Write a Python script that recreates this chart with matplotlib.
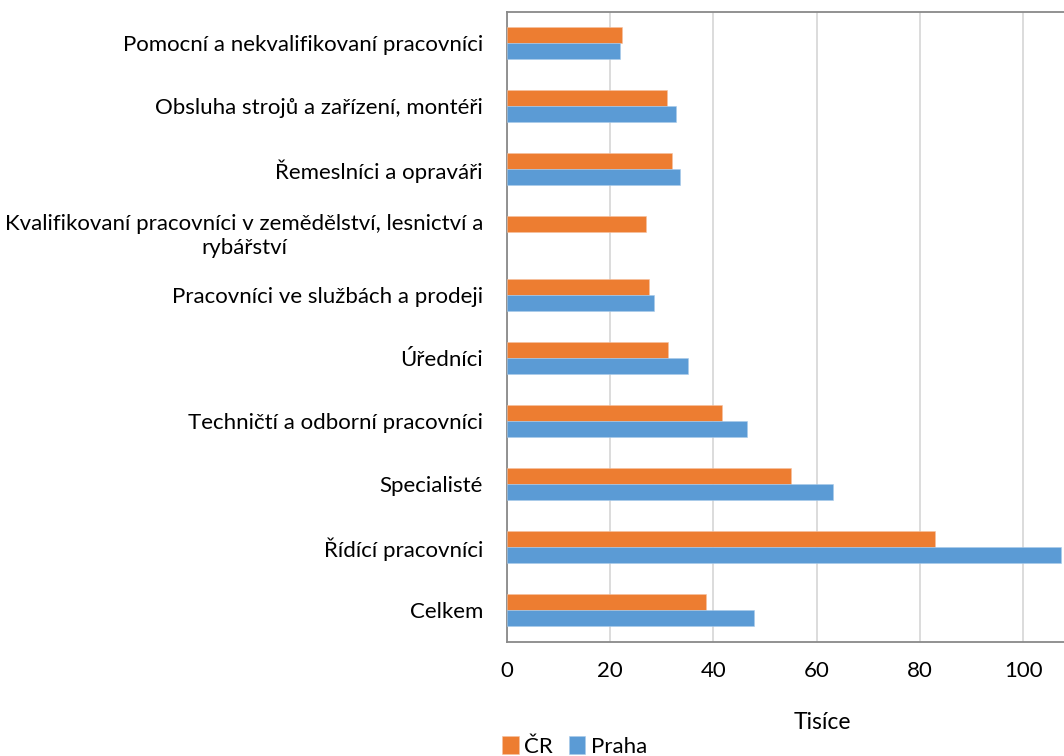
"""Average wages by occupation group, ČR vs Praha (horizontal bars)."""
import numpy as np
import matplotlib
matplotlib.use("Agg")
import matplotlib.pyplot as plt

# ---- data (bottom -> top) --------------------------------------------------
categories = [
    "Celkem",
    "Řídící pracovníci",
    "Specialisté",
    "Techničtí a odborní pracovníci",
    "Úředníci",
    "Pracovníci ve službách a prodeji",
    "Kvalifikovaní pracovníci v zemědělství, lesnictví a\nrybářství",
    "Řemeslníci a opraváři",
    "Obsluha strojů a zařízení, montéři",
    "Pomocní a nekvalifikovaní pracovníci",
]
cr_values = [38.5, 82.9, 55.1, 41.6, 31.2, 27.5, 27.0, 32.1, 31.0, 22.4]
praha_values = [47.9, 107.4, 63.2, 46.6, 35.1, 28.5, np.nan, 33.5, 32.7, 21.9]
series_names = ["ČR", "Praha"]
x_ticks = [0, 20, 40, 60, 80, 100]

# ---- style -------------------------------------------------------------------
ORANGE = "#ED7D31"
BLUE = "#5B9BD5"
GRID = "#D9D9D9"
SPINE = "#898989"
INK = "#000000"
FS = 16

plt.rcParams.update({
    "font.family": ["Lato", "DejaVu Sans"],
    "font.size": FS,
    "text.color": INK,
})

W, H = 1064, 756
fig = plt.figure(figsize=(W / 100, H / 100), dpi=100)
fig.patch.set_facecolor("white")

# plot area extends past the right edge of the picture (cropped like the source)
left, bottom, top = 506.7, 641.7, 12.0
px_per_unit = 5.165
xmax = 120
ax = fig.add_axes([left / W, (H - bottom) / H,
                   xmax * px_per_unit / W, (bottom - top) / H])

y = np.arange(len(categories))
h = 0.254
ax.barh(y + h / 2, cr_values, height=h, color=ORANGE, label=series_names[0],
        edgecolor="#F6C1A0", linewidth=0.4, zorder=3)
ax.barh(y - h / 2, praha_values, height=h, color=BLUE, label=series_names[1],
        edgecolor="#A9CBEA", linewidth=0.4, zorder=3)

ax.set_xlim(0, xmax)
ax.set_ylim(-0.5, len(categories) - 0.5)
ax.set_yticks(y)
ax.set_yticklabels(categories, multialignment="center")
ax.set_xticks(x_ticks)
ax.tick_params(axis="y", length=0, pad=17, labelsize=FS)
ax.tick_params(axis="x", length=0, pad=14, labelsize=FS)

ax.grid(axis="x", color=GRID, lw=1.3, zorder=0)
ax.set_axisbelow(True)
for s in ("left", "bottom", "top"):
    ax.spines[s].set_color(SPINE)
    ax.spines[s].set_linewidth(1.3)
ax.spines["right"].set_visible(False)

fig.text(822 / W, 1 - 722.7 / H, "Tisíce", ha="center", va="center",
         fontsize=16.5)

fig.legend(loc="center left", bbox_to_anchor=(502 / W, 1 - 746.7 / H),
           ncol=2, frameon=False, fontsize=FS, handlelength=0.75,
           handleheight=0.85, handletextpad=0.25, columnspacing=0.7,
           borderpad=0, borderaxespad=0)

fig.savefig("out.png", dpi=100)
